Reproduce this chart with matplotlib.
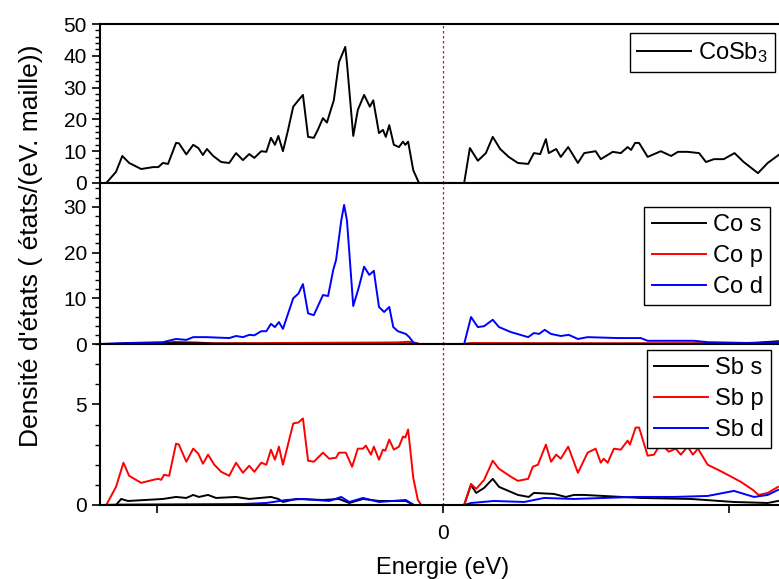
import matplotlib
matplotlib.use("Agg")
import matplotlib.pyplot as plt
from matplotlib.ticker import MultipleLocator, FixedLocator

plt.rcParams['font.family'] = ['Liberation Sans', 'DejaVu Sans']
plt.rcParams['mathtext.fontset'] = 'custom'
plt.rcParams['mathtext.rm'] = 'Liberation Sans'
plt.rcParams['mathtext.default'] = 'regular'

# total DOS CoSb3
E_tot = [-5.98, -5.89, -5.72, -5.61, -5.49, -5.28, -5.07, -4.98, -4.90, -4.81,
         -4.67, -4.62, -4.49, -4.37, -4.28, -4.20, -4.13, -4.02, -3.88, -3.74,
         -3.62, -3.50, -3.39, -3.30, -3.18, -3.09, -3.01, -2.94, -2.88, -2.80,
         -2.71, -2.62, -2.53, -2.45, -2.36, -2.26, -2.19, -2.10, -2.03, -1.98,
         -1.91, -1.82, -1.71, -1.68, -1.57, -1.49, -1.38, -1.28, -1.22, -1.12,
         -1.05, -1.00, -0.94, -0.86, -0.77, -0.70, -0.66, -0.61, -0.52, -0.42,
         0.37, 0.47, 0.61, 0.75, 0.87, 1.00, 1.15, 1.31, 1.49, 1.59,
         1.70, 1.80, 1.85, 1.98, 2.06, 2.19, 2.36, 2.47, 2.67, 2.76,
         2.97, 3.11, 3.23, 3.29, 3.36, 3.43, 3.58, 3.81, 3.99, 4.11,
         4.28, 4.48, 4.60, 4.74, 4.91, 5.10, 5.26, 5.51, 5.68, 5.87]
dos_tot = [0, 0, 3.5, 8.5, 6.3, 4.4, 5.0, 5.0, 6.3, 6.0,
           12.6, 12.5, 9.0, 12.0, 11.0, 8.8, 10.7, 8.5, 6.6, 6.3,
           9.4, 7.2, 9.1, 7.9, 10.0, 9.8, 14.2, 12.0, 14.8, 10.0,
           16.7, 24.0, 26.0, 27.7, 14.5, 14.2, 16.7, 20.4, 19.0, 22.0,
           26.0, 38.0, 42.8, 37.7, 14.8, 23.0, 27.7, 24.0, 26.0, 15.7,
           16.7, 14.5, 18.2, 12.0, 11.3, 13.0, 12.0, 13.0, 4.0, 0.0,
           0.0, 11.0, 7.0, 9.4, 14.5, 10.7, 8.2, 6.3, 6.0, 9.4,
           9.1, 13.8, 9.4, 10.7, 8.2, 11.3, 6.3, 9.4, 10.0, 7.5,
           9.8, 9.4, 11.3, 10.4, 12.6, 12.6, 8.2, 10.0, 8.5, 9.8,
           9.8, 9.4, 6.6, 7.5, 7.5, 9.4, 6.6, 3.1, 6.3, 8.8]

# Co partial DOS
E_cos = [-5.98, -5.0, -4.7, -4.3, -4.0, -3.0, -1.0, -0.5, -0.42, 0.37, 0.5, 3.0, 5.0, 5.5, 5.86]
dos_cos = [0, 0.1, 0.4, 0.3, 0.15, 0.1, 0.1, 0.15, 0, 0, 0.1, 0.05, 0.1, 0.3, 0.6]
E_cop = [-5.98, -4.5, -3.5, -2.5, -1.5, -0.8, -0.6, -0.5, -0.42, 0.37, 0.5, 2.0, 4.0, 5.5, 5.86]
dos_cop = [0, 0.05, 0.15, 0.25, 0.3, 0.35, 0.5, 0.3, 0, 0, 0.2, 0.15, 0.15, 0.2, 0.3]
E_cod = [-5.98, -5.59, -4.90, -4.67, -4.49, -4.37, -4.14, -3.74, -3.62, -3.50,
         -3.39, -3.30, -3.18, -3.09, -3.01, -2.94, -2.87, -2.80, -2.62, -2.53,
         -2.45, -2.36, -2.26, -2.10, -2.01, -1.92, -1.87, -1.78, -1.73, -1.68,
         -1.57, -1.47, -1.38, -1.29, -1.21, -1.12, -1.03, -0.94, -0.87, -0.79,
         -0.65, -0.59, -0.51, -0.42,
         0.37, 0.49, 0.61, 0.72, 0.87, 0.98, 1.19, 1.49, 1.59, 1.68,
         1.78, 1.89, 2.06, 2.20, 2.36, 2.53, 3.06, 3.46, 3.58, 4.39,
         4.63, 5.44, 5.86]
dos_cod = [0, 0.2, 0.4, 1.1, 0.9, 1.5, 1.5, 1.3, 1.75, 1.5,
           2.0, 1.9, 2.8, 2.8, 4.4, 3.7, 4.8, 3.3, 10.0, 11.0,
           13.1, 6.7, 6.3, 10.7, 10.5, 16.2, 18.4, 27.0, 30.4, 27.0,
           8.3, 12.5, 16.9, 15.1, 16.0, 8.1, 7.0, 8.1, 3.7, 2.8,
           2.2, 1.5, 0.2, 0,
           0, 5.9, 3.7, 3.9, 5.3, 3.7, 2.6, 1.5, 2.4, 2.2,
           3.1, 2.2, 1.75, 2.0, 1.1, 1.5, 1.3, 1.3, 0.7, 0.7,
           0.4, 0.2, 0.4]

# Sb partial DOS
E_sbs = [-5.98, -5.72, -5.63, -5.51, -4.90, -4.67, -4.49, -4.37, -4.27, -4.11,
         -3.97, -3.62, -3.39, -3.01, -2.88, -2.80, -2.57, -2.10, -1.82, -1.64,
         -1.40, -1.12, -0.65, -0.51, -0.42,
         0.37, 0.49, 0.58, 0.72, 0.87, 0.98, 1.31, 1.50, 1.59, 1.94,
         2.15, 2.29, 2.47, 3.46, 4.34, 5.09, 5.68, 5.86]
dos_sbs = [0, 0, 0.3, 0.2, 0.3, 0.4, 0.35, 0.5, 0.4, 0.5,
           0.35, 0.4, 0.3, 0.4, 0.3, 0.15, 0.3, 0.25, 0.3, 0.1,
           0.3, 0.2, 0.2, 0, 0,
           0, 1.0, 0.6, 0.85, 1.3, 0.9, 0.5, 0.4, 0.6, 0.55,
           0.4, 0.5, 0.5, 0.35, 0.3, 0.15, 0.1, 0.2]
E_sbp = [-5.98, -5.89, -5.72, -5.59, -5.49, -5.28, -5.07, -4.98, -4.93, -4.88,
         -4.79, -4.67, -4.62, -4.49, -4.37, -4.28, -4.20, -4.11, -4.00, -3.88,
         -3.74, -3.62, -3.50, -3.39, -3.30, -3.18, -3.09, -3.01, -2.94, -2.87,
         -2.80, -2.62, -2.53, -2.45, -2.36, -2.26, -2.10, -1.99, -1.87, -1.82,
         -1.70, -1.59, -1.49, -1.40, -1.35, -1.26, -1.21, -1.12, -1.05, -1.01,
         -0.94, -0.86, -0.77, -0.70, -0.66, -0.61, -0.52, -0.44, -0.38,
         0.37, 0.49, 0.58, 0.72, 0.87, 0.98, 1.19, 1.31, 1.49, 1.57,
         1.66, 1.80, 1.89, 1.98, 2.06, 2.19, 2.36, 2.53, 2.67, 2.76,
         2.81, 2.88, 2.99, 3.11, 3.23, 3.27, 3.37, 3.43, 3.58, 3.69,
         3.81, 3.95, 4.07, 4.16, 4.28, 4.37, 4.46, 4.63, 4.81, 4.98,
         5.21, 5.42, 5.52, 5.68, 5.86]
dos_sbp = [0, 0, 0.9, 2.1, 1.45, 1.1, 1.25, 1.3, 1.25, 1.5,
           1.45, 3.05, 3.0, 2.15, 2.8, 2.55, 2.05, 2.5, 2.0, 1.65,
           1.45, 2.1, 1.6, 1.95, 1.65, 2.1, 2.0, 2.75, 2.25, 2.9,
           2.0, 4.05, 4.1, 4.3, 2.2, 2.15, 2.6, 2.3, 2.35, 2.6,
           2.6, 1.9, 2.8, 2.8, 2.95, 2.5, 2.9, 2.25, 2.75, 2.7,
           3.25, 2.75, 2.9, 3.4, 3.35, 3.75, 1.35, 0.25, 0,
           0, 1.05, 0.8, 1.25, 2.2, 1.8, 1.4, 1.2, 1.3, 1.9,
           2.0, 3.0, 2.15, 2.5, 2.3, 2.9, 1.6, 2.6, 2.8, 2.1,
           2.3, 2.1, 2.8, 2.75, 3.2, 3.0, 3.85, 3.85, 2.45, 2.5,
           3.05, 2.65, 2.8, 2.5, 2.9, 2.5, 2.8, 2.0, 1.75, 1.5,
           1.15, 0.75, 0.5, 0.6, 0.9]
E_sbd = [-5.98, -5.7, -3.5, -3.09, -2.74, -2.45, -1.99, -1.78, -1.64, -1.40,
         -1.12, -0.65, -0.51, -0.42,
         0.37, 0.49, 0.89, 1.42, 1.77, 2.29, 3.34, 4.04, 4.63, 5.09,
         5.44, 5.68, 5.86]
dos_sbd = [0, 0.02, 0.05, 0.1, 0.25, 0.3, 0.2, 0.4, 0.15, 0.35,
           0.15, 0.25, 0, 0,
           0, 0.1, 0.2, 0.15, 0.35, 0.3, 0.4, 0.4, 0.45, 0.7,
           0.4, 0.5, 0.75]

fig = plt.figure(figsize=(7.79, 5.79), dpi=100)
W, H = 779, 579
left, width = 100 / W, 686 / W
ax1 = fig.add_axes([left, 1 - 183 / H, width, 159 / H])
ax2 = fig.add_axes([left, 1 - 344 / H, width, 161 / H])
ax3 = fig.add_axes([left, 1 - 505 / H, width, 161 / H])

lw = 1.4
ax1.plot(E_tot, dos_tot, color='black', lw=lw, label='CoSb$_3$')
ax2.plot(E_cos, dos_cos, color='black', lw=lw, label='Co s')
ax2.plot(E_cop, dos_cop, color='red', lw=lw, label='Co p')
ax2.plot(E_cod, dos_cod, color='blue', lw=lw, label='Co d')
ax3.plot(E_sbs, dos_sbs, color='black', lw=lw, label='Sb s')
ax3.plot(E_sbp, dos_sbp, color='red', lw=lw, label='Sb p')
ax3.plot(E_sbd, dos_sbd, color='blue', lw=lw, label='Sb d')

ax1.set_ylim(0, 50)
ax1.yaxis.set_major_locator(MultipleLocator(10))
ax1.yaxis.set_minor_locator(MultipleLocator(2))
ax2.set_ylim(0, 35.2)
ax2.yaxis.set_major_locator(FixedLocator([0, 10, 20, 30]))
ax2.yaxis.set_minor_locator(MultipleLocator(2))
ax3.set_ylim(0, 8)
ax3.yaxis.set_major_locator(FixedLocator([0, 5]))
ax3.yaxis.set_minor_locator(MultipleLocator(1))

anchors = [(775, 33), (770, 207), (771, 350)]
for ax, (ax_px, ay_px) in zip([ax1, ax2, ax3], anchors):
    ax.set_xlim(-6, 6)
    ax.axvline(0, color='red', ls=(0, (2, 2)), lw=0.9)
    for s in ax.spines.values():
        s.set_linewidth(1.5)
    ax.tick_params(axis='y', which='major', direction='out', length=6, width=1.2, labelsize=15)
    ax.tick_params(axis='y', which='minor', direction='out', length=3.5, width=1.0)
    ax.tick_params(axis='x', which='both', bottom=False, top=False, labelbottom=False)
    leg = ax.legend(loc='upper right', bbox_to_anchor=(ax_px / W, 1 - ay_px / H),
                    bbox_transform=fig.transFigure, borderaxespad=0, fontsize=17,
                    fancybox=False, edgecolor='black', framealpha=1,
                    borderpad=0.3, labelspacing=0.38, handlelength=2.3,
                    handletextpad=0.3)
    leg.get_frame().set_linewidth(1.0)

ax3.set_xticks([-5, 0, 5])
ax3.set_xticklabels(['', '0', ''])
ax3.tick_params(axis='x', which='major', bottom=True, labelbottom=True, direction='out',
                length=6, width=1.2, labelsize=15, pad=8)
ax3.set_xlabel('Energie (eV)', fontsize=17, labelpad=10)

fig.text(0.04, 1 - 246 / H, "Densité d'états ( états/(eV. maille))", rotation=90,
         ha='center', va='center', fontsize=19)

fig.savefig('out.png', dpi=100)
